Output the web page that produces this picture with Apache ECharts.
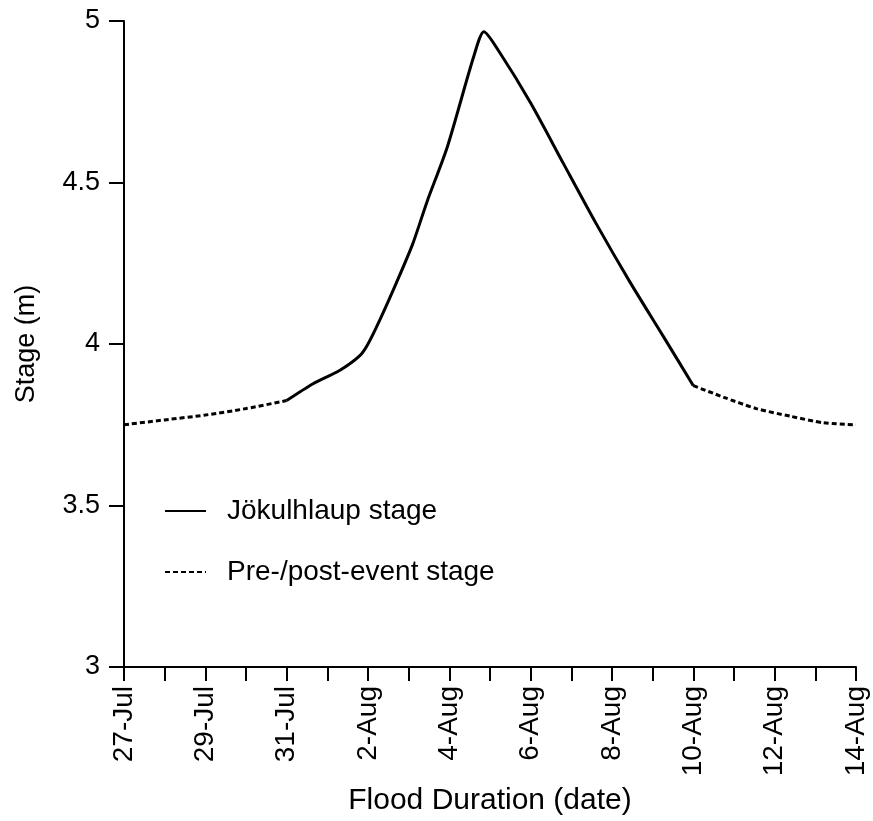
<!DOCTYPE html>
<html>
<head>
<meta charset="utf-8">
<script src="https://cdn.jsdelivr.net/npm/echarts@6/dist/echarts.min.js"></script>
<style>html,body{margin:0;padding:0;background:#fff;}#c{width:873px;height:821px;}</style>
</head>
<body>
<div id="c"></div>
<script>
// x values are days since 27-Jul
var tickLabels = ['27-Jul','29-Jul','31-Jul','2-Aug','4-Aug','6-Aug','8-Aug','10-Aug','12-Aug','14-Aug'];
var preDays = [0, 1, 2, 3, 4];
var preStage = [3.75, 3.765, 3.78, 3.80, 3.825];
var jokDays = [4, 4.65, 5.3, 5.8, 6.0, 6.3, 6.7, 7.1, 7.45, 7.95, 8.6, 8.85, 9.25, 10.0, 10.8, 11.6, 12.45, 13.25, 14.0];
var jokStage = [3.825, 3.877, 3.918, 3.964, 4.0, 4.077, 4.19, 4.31, 4.44, 4.61, 4.89, 4.967, 4.90, 4.746, 4.56, 4.375, 4.19, 4.026, 3.871];
var postDays = [14, 14.75, 15.55, 16.4, 17.2, 18];
var postStage = [3.871, 3.835, 3.80, 3.776, 3.756, 3.75];

function pairs(xs, ys){ return xs.map(function(x,i){ return [x, ys[i]]; }); }

var FONT = 'Liberation Sans, Arial, sans-serif';
var chart = echarts.init(document.getElementById('c'), null, {renderer:'canvas'});
var dashed = {color:'#000', width:3, type:[5,3]};
chart.setOption({
  animation:false,
  backgroundColor:'#fff',
  grid:{left:124, top:21, right:17, bottom:152, containLabel:false},
  legend:{
    orient:'vertical', left:159, top:490,
    itemWidth:41, itemHeight:14, itemGap:29,
    data:['Jökulhlaup stage','Pre-/post-event stage'],
    itemStyle:{opacity:0},
    textStyle:{fontFamily:FONT, fontSize:28, color:'#000', lineHeight:32, padding:[0,0,0,16]}
  },
  xAxis:{
    type:'value', min:0, max:18, interval:1,
    axisLine:{lineStyle:{color:'#000', width:2}},
    axisTick:{show:true, length:14, lineStyle:{color:'#000', width:2}},
    splitLine:{show:false},
    axisLabel:{
      rotate:90, margin:19, color:'#000', fontFamily:FONT, fontSize:28,
      formatter:function(v){ return (v % 2 === 0) ? tickLabels[v/2] : ''; }
    },
    name:'Flood Duration (date)', nameLocation:'middle', nameGap:119,
    nameTextStyle:{fontFamily:FONT, fontSize:30, color:'#000', verticalAlign:'top'}
  },
  yAxis:{
    type:'value', min:3, max:5, interval:0.5,
    axisLine:{show:true, lineStyle:{color:'#000', width:2}},
    axisTick:{show:true, length:15, lineStyle:{color:'#000', width:2}},
    splitLine:{show:false},
    axisLabel:{margin:24, color:'#000', fontFamily:FONT, fontSize:27},
    name:'Stage (m)', nameLocation:'middle', nameGap:84, nameRotate:90,
    nameTextStyle:{fontFamily:FONT, fontSize:27, color:'#000'}
  },
  series:[
    {name:'Jökulhlaup stage', type:'line', data:pairs(jokDays, jokStage), showSymbol:false, symbol:'none', smooth:0.25,
     lineStyle:{color:'#000', width:3}, itemStyle:{color:'#000'}},
    {name:'Pre-/post-event stage', type:'line', data:pairs(preDays, preStage), showSymbol:false, symbol:'none', smooth:0.25,
     lineStyle:dashed, itemStyle:{color:'#000'}},
    {name:'Pre-/post-event stage', type:'line', data:pairs(postDays, postStage), showSymbol:false, symbol:'none', smooth:0.25,
     lineStyle:dashed, itemStyle:{color:'#000'}}
  ]
});
</script>
</body>
</html>
